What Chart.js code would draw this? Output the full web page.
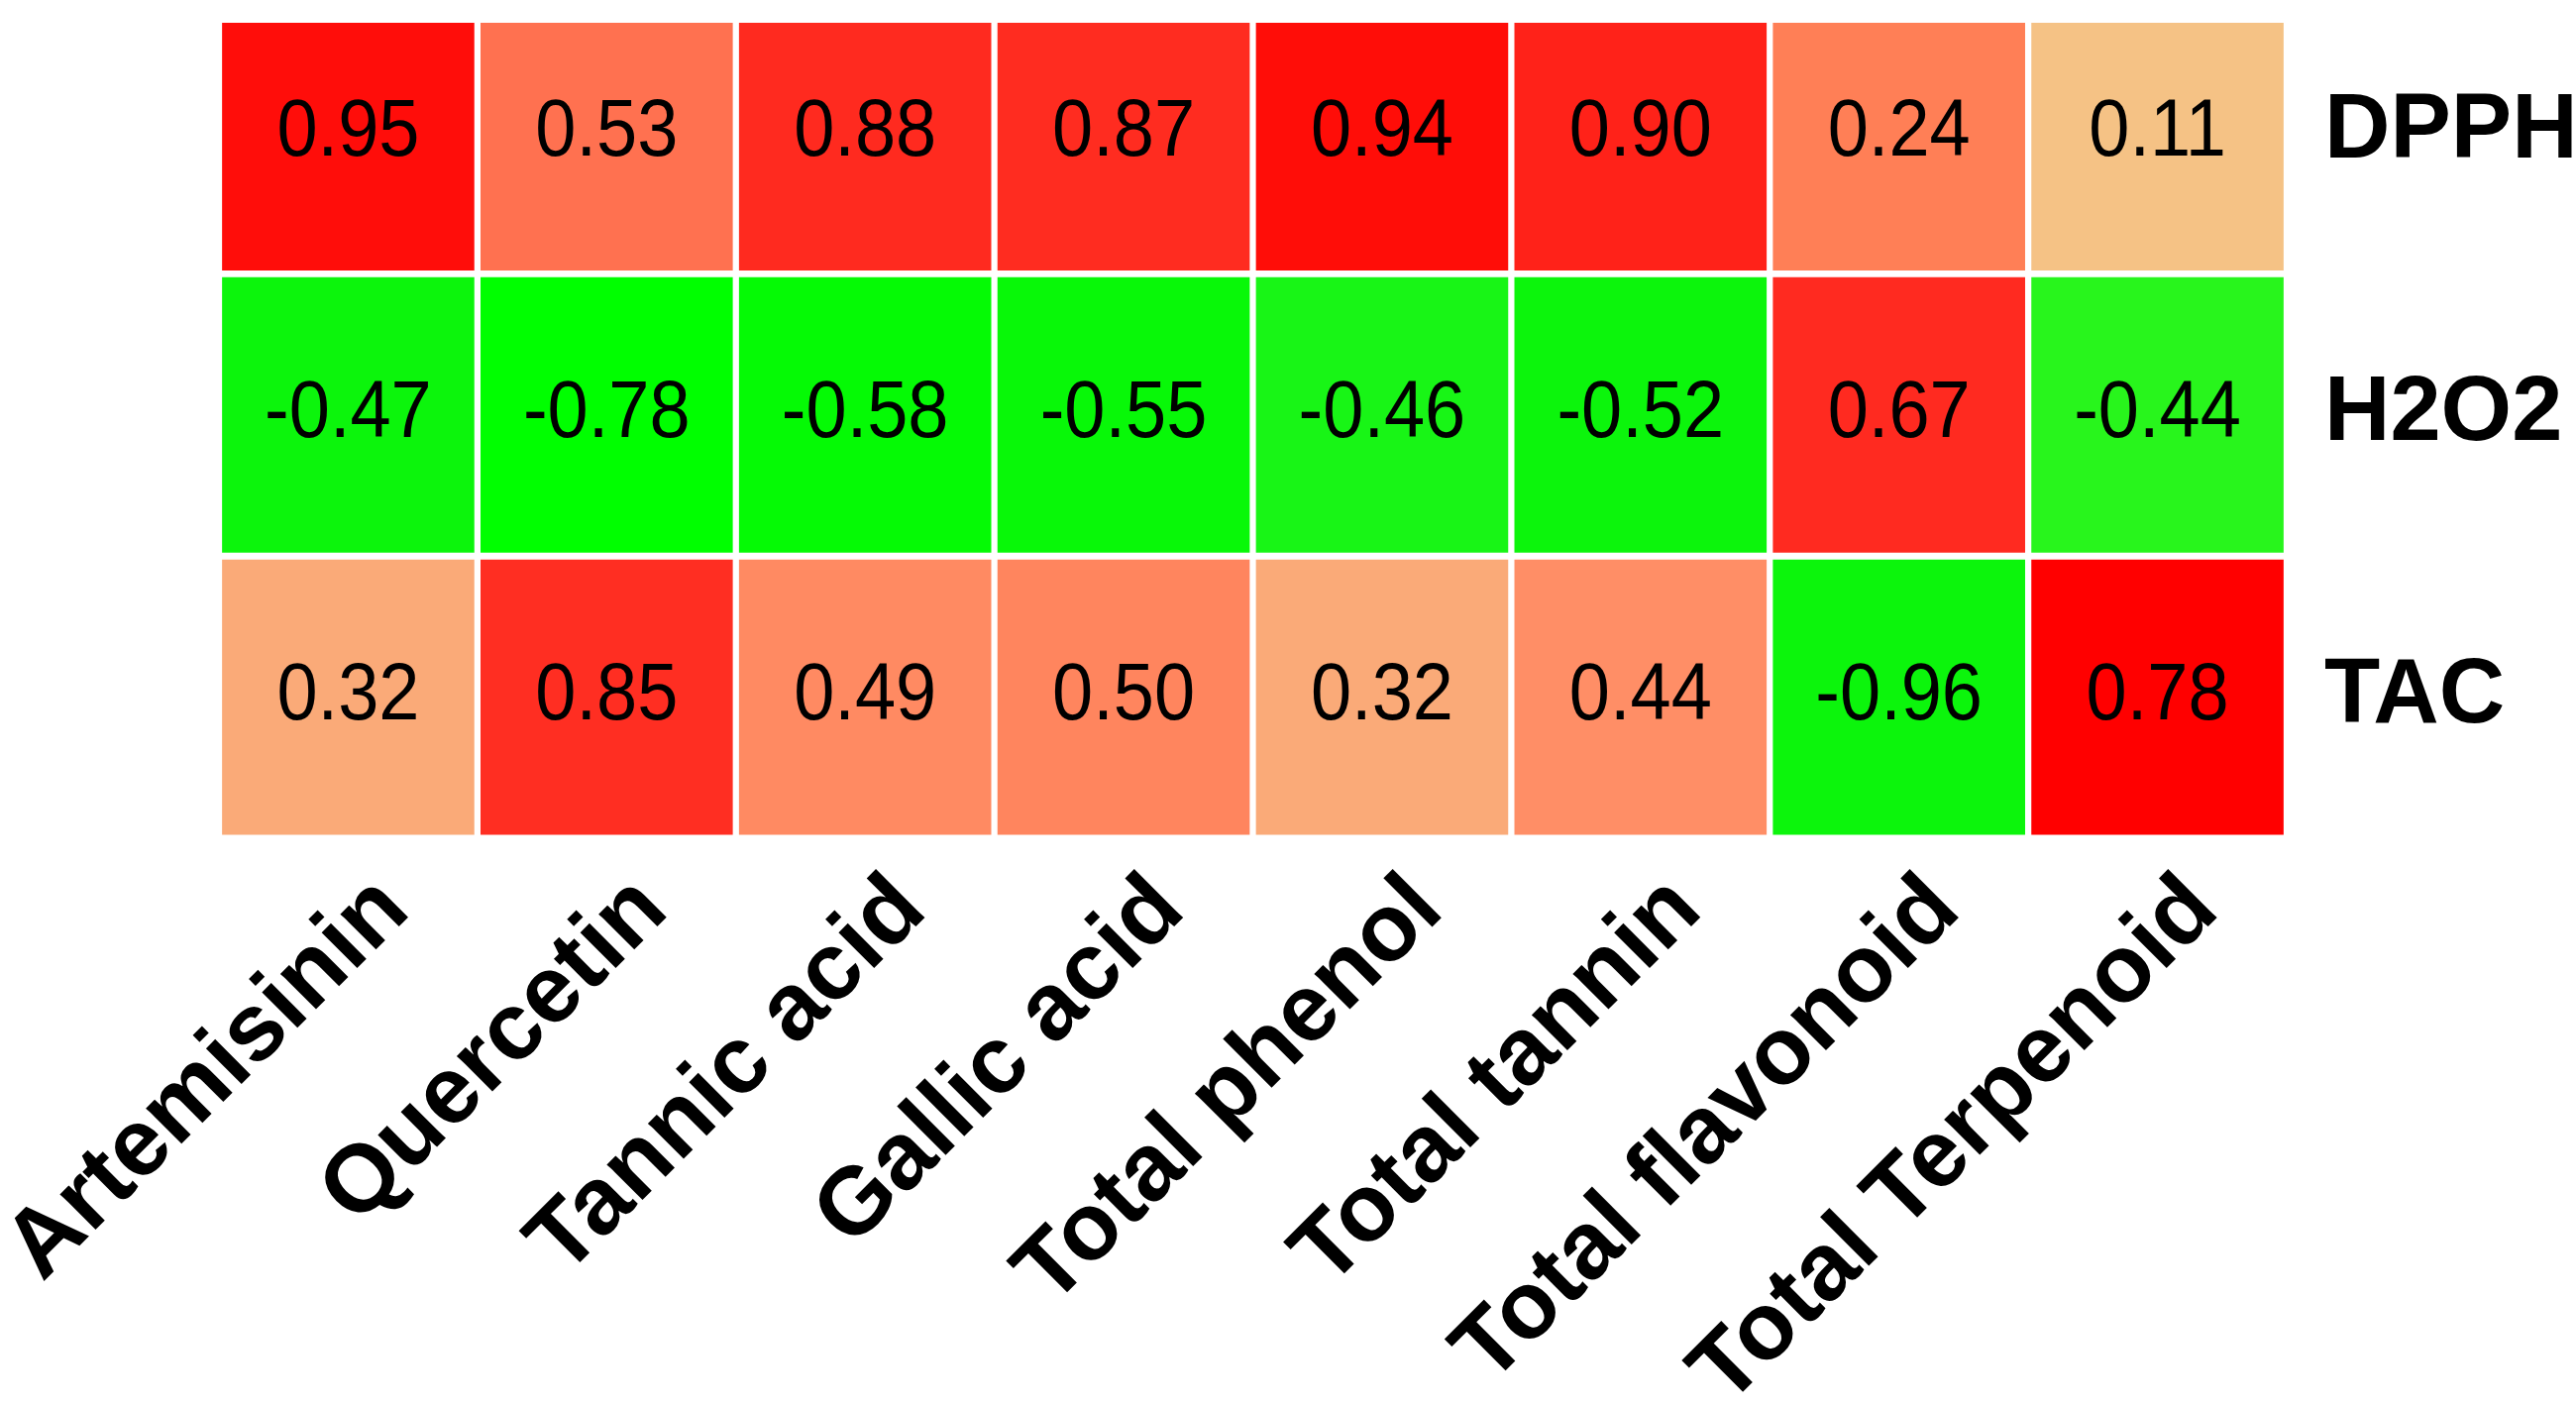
<!DOCTYPE html>
<html>
<head>
<meta charset="utf-8">
<script src="https://cdn.jsdelivr.net/npm/chart.js@4.4.1/dist/chart.umd.min.js"></script>
<style>
  body { margin: 0; background: #fff; }
  canvas { display: block; }
</style>
</head>
<body>
<canvas id="heatmap" width="2600" height="1419"></canvas>
<script>
// Heatmap data
const columns = ['Artemisinin', 'Quercetin', 'Tannic acid', 'Gallic acid', 'Total phenol', 'Total tannin', 'Total flavonoid', 'Total Terpenoid'];
const rows = ['DPPH', 'H2O2', 'TAC'];

const dpphValues = [0.95, 0.53, 0.88, 0.87, 0.94, 0.90, 0.24, 0.11];
const h2o2Values = [-0.47, -0.78, -0.58, -0.55, -0.46, -0.52, 0.67, -0.44];
const tacValues = [0.32, 0.85, 0.49, 0.50, 0.32, 0.44, -0.96, 0.78];

// Cell colours
const dpphColors = ['#ff0d0a', '#ff7150', '#ff2a1f', '#ff2c20', '#ff0d08', '#ff2219', '#ff7f56', '#f5c285'];
const h2o2Colors = ['#0cf50c', '#00ff00', '#05fa05', '#08f808', '#18f516', '#0cf50c', '#ff2a20', '#28f51c'];
const tacColors = ['#faaa78', '#ff2e22', '#ff8a62', '#ff855e', '#faaa78', '#ff8e66', '#0cf50c', '#ff0000'];

const values = [dpphValues, h2o2Values, tacValues];
const colors = [dpphColors, h2o2Colors, tacColors];

const FONT = "'Liberation Sans', Arial, sans-serif";
const halfGap = 0.012; // white line between rows

// Draws the number in the middle of every cell
const cellText = {
    id: 'cellText',
    afterDatasetsDraw(chart) {
        const ctx = chart.ctx;
        ctx.save();
        ctx.fillStyle = '#000';
        ctx.font = '74px ' + FONT;
        ctx.textAlign = 'center';
        ctx.textBaseline = 'middle';
        chart.data.datasets.forEach((ds, r) => {
            chart.getDatasetMeta(r).data.forEach((bar, c) => {
                const p = bar.getCenterPoint();
                ctx.save();
                ctx.translate(p.x, p.y);
                ctx.scale(1, 1.1);
                ctx.fillText(ds.values[c].toFixed(2), 0, 0);
                ctx.restore();
            });
        });
        ctx.restore();
    }
};

const ctx = document.getElementById('heatmap').getContext('2d');
const heatmap = new Chart(ctx, {
    type: 'bar',
    data: {
        labels: columns,
        datasets: rows.map((name, r) => ({
            label: name,
            values: values[r],
            data: values[r].map(() => [r + halfGap, r + 1 - halfGap]),
            backgroundColor: colors[r],
            borderWidth: 0,
            grouped: false,
            categoryPercentage: 1,
            barPercentage: 0.976
        }))
    },
    options: {
        responsive: false,
        animation: false,
        layout: { padding: { left: 221, top: 23, right: 0, bottom: 0 } },
        plugins: {
            legend: { display: false },
            tooltip: { enabled: false }
        },
        scales: {
            x: {
                grid: { display: false, drawTicks: false },
                border: { display: false },
                ticks: {
                    color: '#000',
                    font: { family: FONT, size: 96, weight: 'bold' },
                    minRotation: 45,
                    maxRotation: 45,
                    autoSkip: false,
                    padding: 16,
                    labelOffset: 46
                },
                afterFit(scale) {
                    scale.height = 573;
                    scale.paddingLeft = 0;
                    scale.paddingRight = 0;
                }
            },
            y: {
                type: 'linear',
                position: 'right',
                reverse: true,
                min: 0.11,
                max: 3,
                grid: { display: false, drawTicks: false },
                border: { display: false },
                afterBuildTicks(scale) {
                    scale.ticks = rows.map((_, i) => ({ value: i + 0.5 }));
                },
                ticks: {
                    color: '#000',
                    font: { family: FONT, size: 92, weight: 'bold' },
                    padding: 38,
                    callback: (v, i) => rows[i]
                },
                afterFit(scale) {
                    scale.width = 292;
                    scale.paddingTop = 0;
                    scale.paddingBottom = 0;
                }
            }
        }
    },
    plugins: [cellText]
});
</script>
</body>
</html>
